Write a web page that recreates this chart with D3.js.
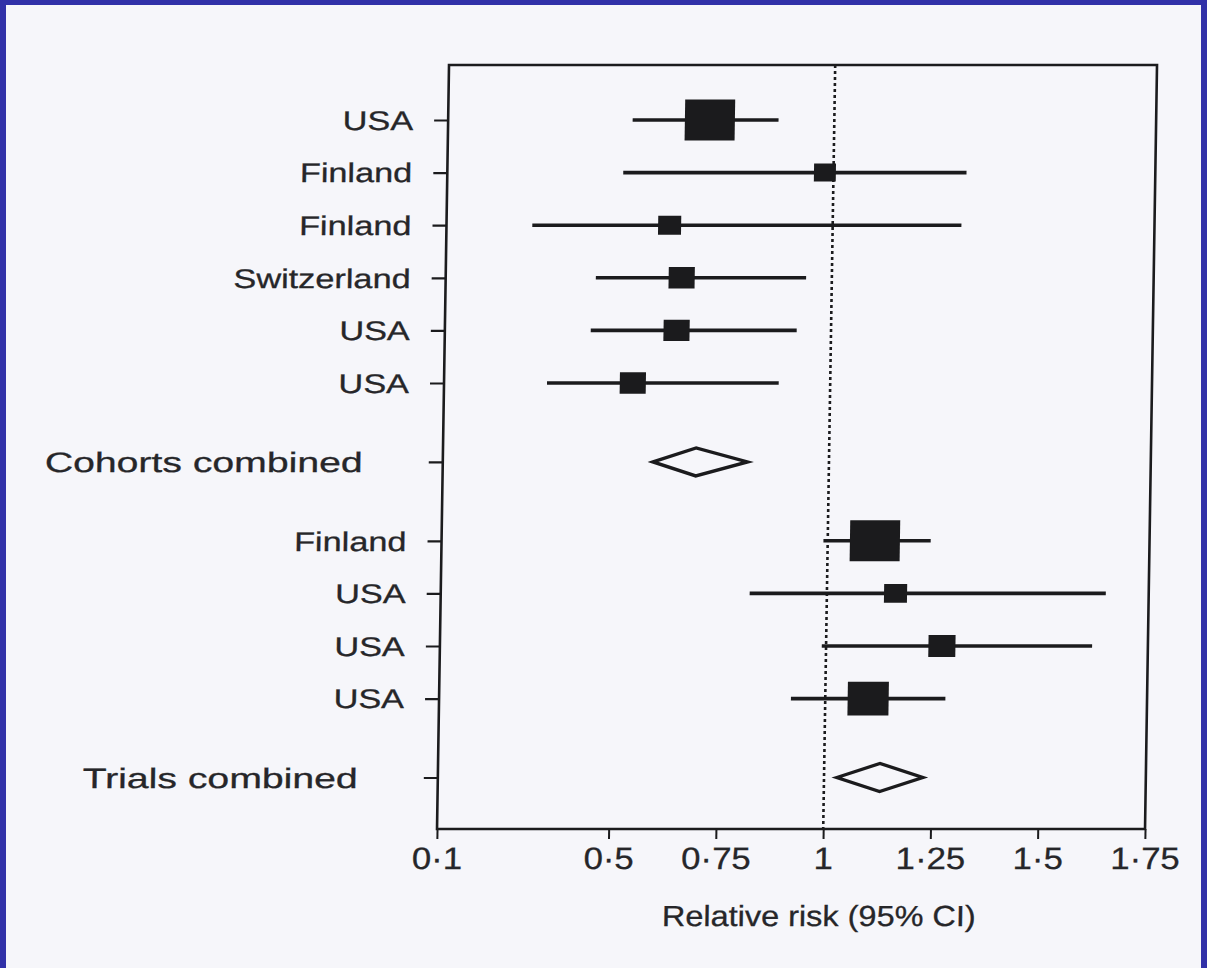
<!DOCTYPE html>
<html><head><meta charset="utf-8">
<script src="https://cdn.jsdelivr.net/npm/d3@7"></script>
<style>html,body{margin:0;padding:0;background:#3131a8;} svg{display:block}</style>
</head><body>
<svg id="c" width="1207" height="968"></svg>
<script>
// ---- data ----
const cohortLabels = ["USA", "Finland", "Finland", "Switzerland", "USA", "USA"];
const cohortRR     = [0.71, 0.98, 0.62, 0.65, 0.64, 0.54];
const cohortLow    = [0.53, 0.51, 0.30, 0.45, 0.44, 0.34];
const cohortHigh   = [0.87, 1.31, 1.30, 0.94, 0.92, 0.88];
const cohortWeight = [25, 4.8, 5.3, 6.8, 6.8, 6.8];
const cohortsCombinedLabel = "Cohorts combined";
const cohortsCombined = [0.69, 0.59, 0.81]; // rr, low, high

const trialLabels = ["Finland", "USA", "USA", "USA"];
const trialRR     = [1.11, 1.16, 1.27, 1.10];
const trialLow    = [0.99, 0.82, 0.99, 0.92];
const trialHigh   = [1.24, 1.65, 1.62, 1.28];
const trialWeight = [25, 5.3, 7.3, 16.8];
const trialsCombinedLabel = "Trials combined";
const trialsCombined = [1.13, 1.03, 1.23];

const xTickValues = [0.1, 0.5, 0.75, 1, 1.25, 1.5, 1.75];
const xTickLabels = ["0·1", "0·5", "0·75", "1", "1·25", "1·5", "1·75"];
const xTitle = "Relative risk (95% CI)";

// ---- build rows ----
const GAP = 1.5;
let idx = 0;
const studies = [], pooled = [];
cohortLabels.forEach((l, i) => { studies.push({label: l, rr: cohortRR[i], low: cohortLow[i], high: cohortHigh[i], w: cohortWeight[i], pos: idx}); idx++; });
idx += GAP - 1;
pooled.push({label: cohortsCombinedLabel, rr: cohortsCombined[0], low: cohortsCombined[1], high: cohortsCombined[2], pos: idx});
idx += GAP;
trialLabels.forEach((l, i) => { studies.push({label: l, rr: trialRR[i], low: trialLow[i], high: trialHigh[i], w: trialWeight[i], pos: idx}); idx++; });
idx += GAP - 1;
pooled.push({label: trialsCombinedLabel, rr: trialsCombined[0], low: trialsCombined[1], high: trialsCombined[2], pos: idx});

// ---- drawing ----
const ink = "#1b1b1d", paper = "#f6f6fa", txt = "#262629";
const svg = d3.select("#c");
svg.append("rect").attr("width", 1207).attr("height", 968).attr("fill", "#3131a8");
svg.append("rect").attr("x", 6).attr("y", 5).attr("width", 1195).attr("height", 970).attr("fill", paper);

const k = -0.0157, y0 = 448;
const g = svg.append("g").attr("transform", `matrix(1,0,${k},1,${-k * y0},0)`);

const pLeft = 443, pRight = 1151, pTop = 65, pBottom = 829;
const x = d3.scaleLinear().domain([0.1, 1.75]).range([pLeft, pRight]);
const y = d3.scaleLinear().domain([0, 12.5]).range([120, 777.5]);
const size = d3.scaleSqrt().domain([0, 25]).range([0, 50]);
const font = "Liberation Sans, Arial, sans-serif";

// box
g.append("rect").attr("x", pLeft).attr("y", pTop).attr("width", pRight - pLeft).attr("height", pBottom - pTop)
  .attr("fill", "none").attr("stroke", ink).attr("stroke-width", 2.6);

// reference line
g.append("line").attr("x1", x(1)).attr("x2", x(1)).attr("y1", pTop).attr("y2", pBottom)
  .attr("stroke", ink).attr("stroke-width", 2.6).attr("stroke-dasharray", "3,3");

// bottom axis
const xAxis = g.append("g").attr("transform", `translate(0,${pBottom})`)
  .call(d3.axisBottom(x).tickValues(xTickValues).tickSize(10).tickPadding(8)
    .tickFormat((d, i) => xTickLabels[i]));
xAxis.select(".domain").remove();
xAxis.selectAll("line").attr("stroke", ink).attr("stroke-width", 2);
xAxis.selectAll("text").attr("fill", txt).attr("font-family", font)
  .attr("font-size", 31).attr("transform", "scale(1.12,1)")
  .attr("stroke", txt).attr("stroke-width", 0.3);

// left ticks
const allPos = studies.map(d => d.pos).concat(pooled.map(d => d.pos));
const yAxis = g.append("g").attr("transform", `translate(${pLeft},0)`)
  .call(d3.axisLeft(y).tickValues(allPos).tickSize(14).tickFormat(""));
yAxis.select(".domain").remove();
yAxis.selectAll("line").attr("stroke", ink).attr("stroke-width", 2.2);

// labels
g.selectAll("text.study").data(studies).join("text").attr("class", "study")
  .attr("transform", d => `translate(${pLeft - 35},${y(d.pos)}) scale(1.27,1)`)
  .attr("dy", "0.36em").attr("text-anchor", "end").attr("font-family", font)
  .attr("font-size", 27).attr("fill", txt).attr("stroke", txt).attr("stroke-width", 0.3)
  .text(d => d.label);
g.selectAll("text.pooled").data(pooled).join("text").attr("class", "pooled")
  .attr("transform", d => `translate(${pLeft - 80},${y(d.pos)}) scale(1.4,1)`)
  .attr("dy", "0.36em").attr("text-anchor", "end").attr("font-family", font)
  .attr("font-size", 28).attr("fill", txt).attr("stroke", txt).attr("stroke-width", 0.3)
  .text(d => d.label);

// CI lines
g.selectAll("line.ci").data(studies).join("line").attr("class", "ci")
  .attr("x1", d => x(d.low)).attr("x2", d => x(d.high))
  .attr("y1", d => y(d.pos)).attr("y2", d => y(d.pos))
  .attr("stroke", ink).attr("stroke-width", 3.6);

// squares
g.selectAll("rect.pt").data(studies).join("rect").attr("class", "pt")
  .attr("x", d => x(d.rr) - size(d.w) / 2)
  .attr("y", d => y(d.pos) - size(d.w) * 0.82 / 2)
  .attr("width", d => size(d.w)).attr("height", d => size(d.w) * 0.82)
  .attr("fill", ink);

// diamonds
g.selectAll("path.dia").data(pooled).join("path").attr("class", "dia")
  .attr("d", d => d3.line()([[x(d.low), y(d.pos)], [x(d.rr), y(d.pos) - 14], [x(d.high), y(d.pos)], [x(d.rr), y(d.pos) + 14]]) + "Z")
  .attr("fill", paper).attr("stroke", ink).attr("stroke-width", 3.4).attr("stroke-linejoin", "miter");

// axis title
g.append("text").attr("transform", `translate(${x(1) - 3},${pBottom + 97}) scale(1.12,1)`)
  .attr("text-anchor", "middle").attr("font-family", font).attr("font-size", 29)
  .attr("fill", txt).attr("stroke", txt).attr("stroke-width", 0.3).text(xTitle);
</script>
</body></html>
